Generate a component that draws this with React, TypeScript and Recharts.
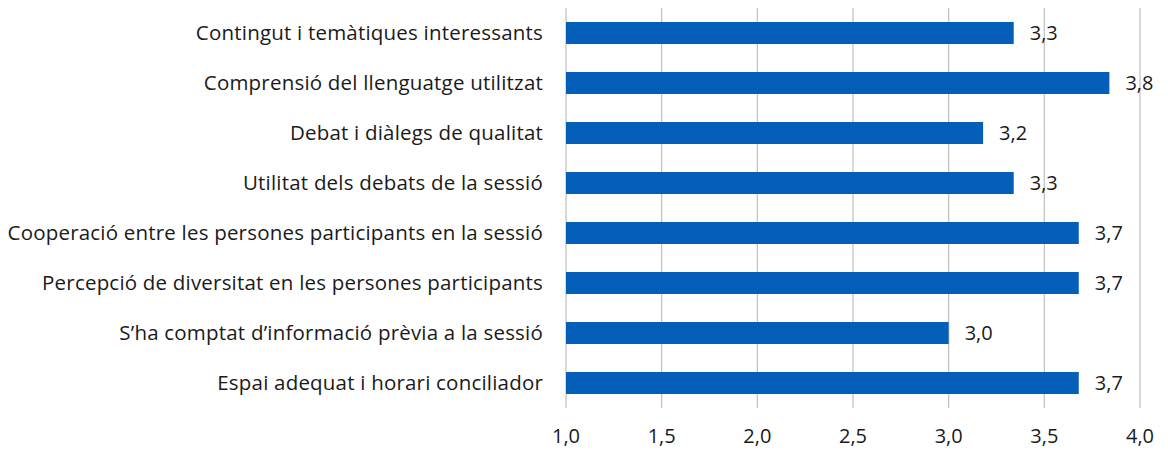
import { BarChart, Bar, XAxis, YAxis, CartesianGrid, LabelList } from 'recharts';

// Valoració mitjana de la sessió (escala 1-4)
const categories = [
  'Contingut i temàtiques interessants',
  'Comprensió del llenguatge utilitzat',
  'Debat i diàlegs de qualitat',
  'Utilitat dels debats de la sessió',
  'Cooperació entre les persones participants en la sessió',
  'Percepció de diversitat en les persones participants',
  'S\u2019ha comptat d\u2019informació prèvia a la sessió',
  'Espai adequat i horari conciliador',
];
const scores = [3.34, 3.84, 3.18, 3.34, 3.68, 3.68, 3.0, 3.68];
const xTicks = [1, 1.5, 2, 2.5, 3, 3.5, 4];

const data = categories.map((name, i) => ({ name, score: scores[i] }));

const FONT = '"Open Sans", sans-serif';
const TEXT = '#1a1a1a';
const SIZE = 20;
const fmt = (v: number) => v.toFixed(1).replace('.', ',');

const CategoryTick = (props: any) => {
  const { x, y, payload } = props;
  return (
    <text
      x={x - 15}
      y={y}
      dy="0.35em"
      textAnchor="end"
      fill={TEXT}
      fontSize={20.5}
      letterSpacing={0.2}
      fontFamily={FONT}
    >
      {payload.value}
    </text>
  );
};

export default function App() {
  return (
    <div style={{ position: 'absolute', left: 0, top: 0, background: '#fff' }}>
      <BarChart
        width={1168}
        height={458}
        data={data}
        layout="vertical"
        margin={{ top: 8, right: 28, bottom: 0, left: 0 }}
      >
        <CartesianGrid horizontal={false} stroke="#c4c4c4" strokeWidth={1.3} />
        <XAxis
          type="number"
          domain={[1, 4]}
          ticks={xTicks}
          allowDataOverflow
          axisLine={false}
          tickLine={false}
          tickSize={0}
          tickMargin={21}
          height={50}
          tickFormatter={fmt}
          tick={{ fill: TEXT, fontSize: SIZE, fontFamily: FONT }}
          interval={0}
        />
        <YAxis
          type="category"
          dataKey="name"
          width={566}
          axisLine={false}
          tickLine={false}
          tick={<CategoryTick />}
          interval={0}
        />
        <Bar dataKey="score" fill="#055fb9" barSize={22} isAnimationActive={false}>
          <LabelList
            dataKey="score"
            position="right"
            offset={16}
            formatter={(v: any) => fmt(Number(v))}
            fill={TEXT}
            fontSize={SIZE}
            fontFamily={FONT}
          />
        </Bar>
      </BarChart>
    </div>
  );
}
